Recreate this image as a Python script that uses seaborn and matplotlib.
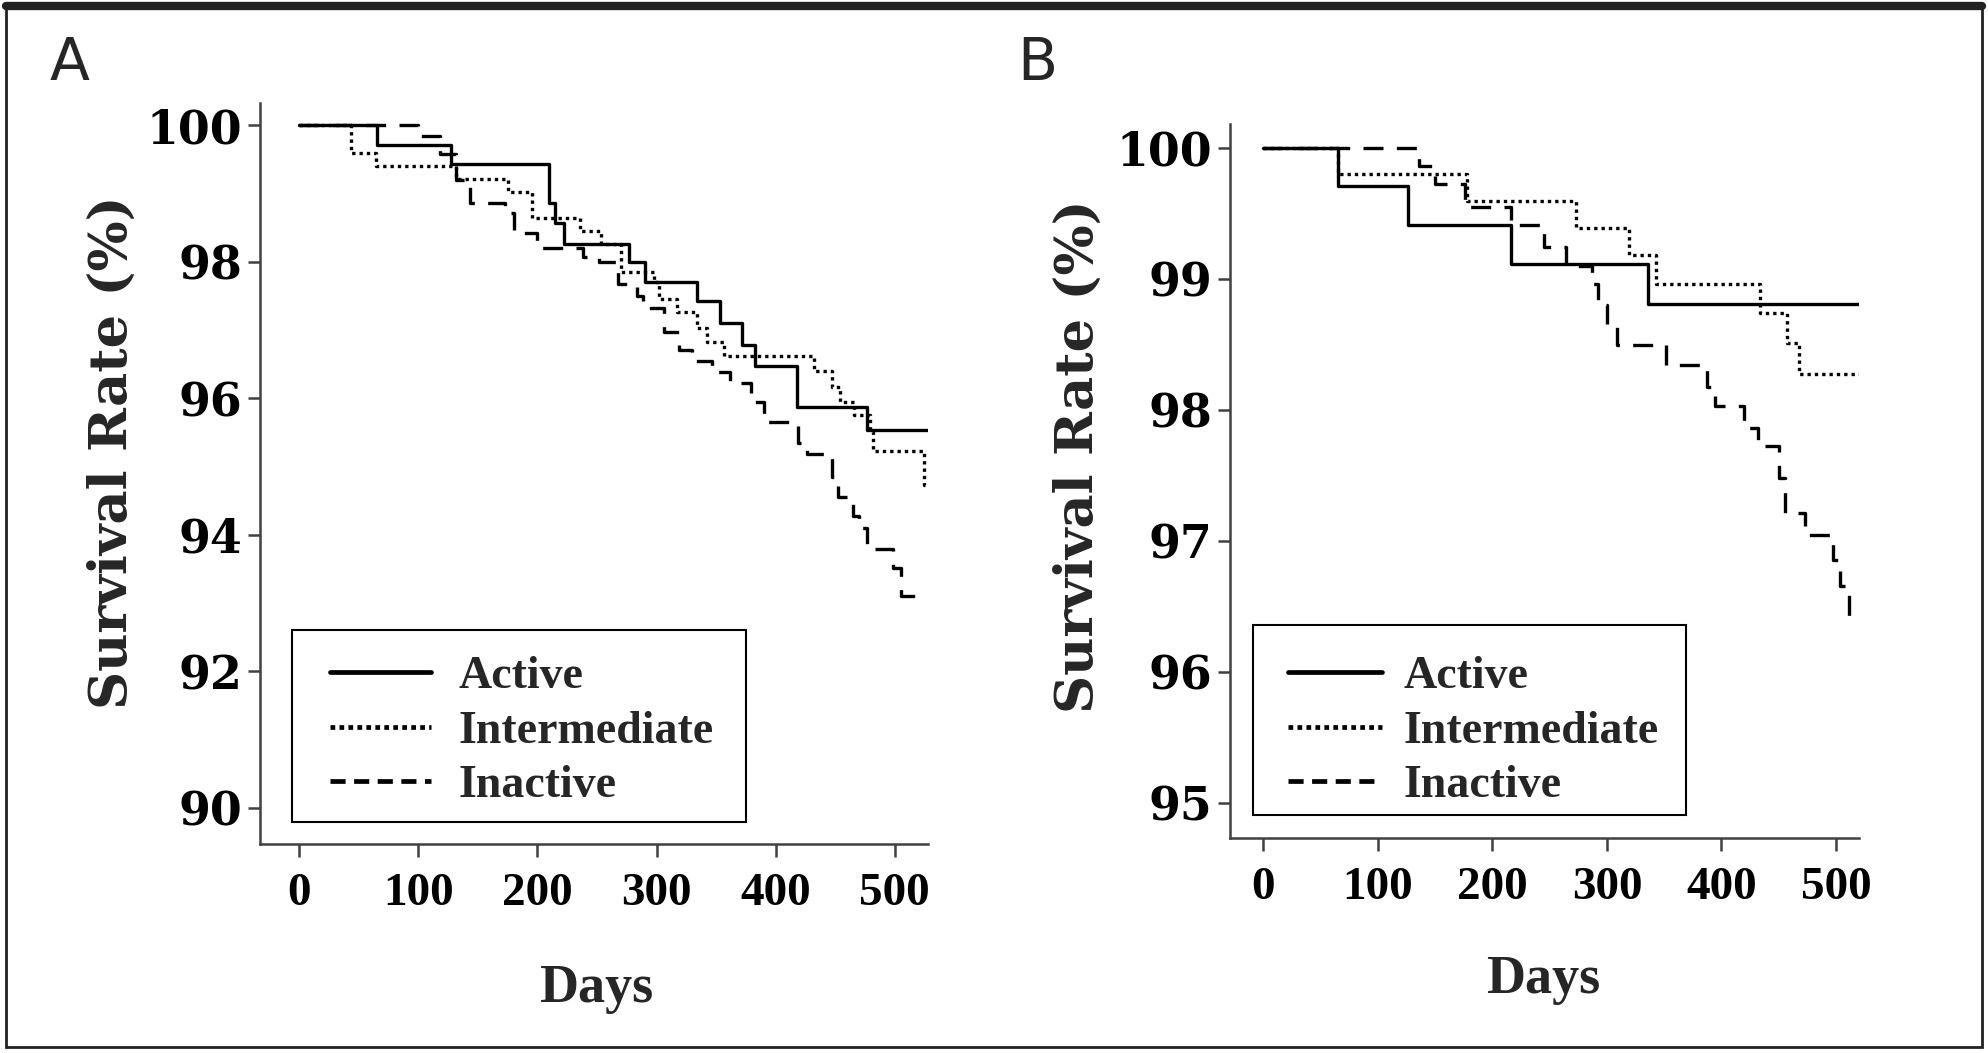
import matplotlib
matplotlib.use("Agg")
import matplotlib.pyplot as plt
import numpy as np
import pandas as pd
import seaborn as sns
from matplotlib.lines import Line2D
from matplotlib.patches import Rectangle

# ---------------- data ----------------
groups = ["Active", "Intermediate", "Inactive"]

# Panel A
a_active_days = [0, 65, 127, 210, 215, 222, 277, 290, 334, 353, 372, 383, 418, 477, 528]
a_active_surv = [100, 99.71, 99.44, 98.86, 98.57, 98.27, 98.0, 97.7, 97.43, 97.11, 96.79, 96.48, 95.87, 95.53, 95.53]
a_inter_days = [0, 43, 64, 132, 175, 195, 236, 253, 270, 298, 302, 317, 334, 342, 357, 432, 447, 454, 466, 479, 482, 525, 528]
a_inter_surv = [100, 99.6, 99.41, 99.21, 99.03, 98.65, 98.45, 98.26, 97.85, 97.7, 97.46, 97.26, 97.03, 96.83, 96.62, 96.4, 96.17, 95.95, 95.75, 95.51, 95.23, 94.73, 94.73]
a_inact_days = [0, 100, 118, 132, 143, 173, 180, 200, 238, 252, 268, 284, 289, 306, 319, 330, 347, 362, 379, 390, 419, 426, 447, 452, 465, 470, 477, 499, 505, 528]
a_inact_surv = [100, 99.85, 99.58, 99.2, 98.86, 98.72, 98.43, 98.2, 98.07, 98.0, 97.68, 97.5, 97.32, 96.98, 96.71, 96.55, 96.38, 96.22, 95.95, 95.66, 95.34, 95.19, 94.85, 94.56, 94.27, 94.1, 93.8, 93.51, 93.11, 93.11]

# Panel B
b_active_days = [0, 65.5, 126, 216, 335.5, 520]
b_active_surv = [100, 99.705, 99.41, 99.11, 98.81, 98.81]
b_inter_days = [0, 65.5, 178, 273, 319, 343, 434, 457, 468, 520]
b_inter_surv = [100, 99.8, 99.59, 99.39, 99.18, 98.96, 98.74, 98.51, 98.27, 98.27]
b_inact_days = [0, 136, 150, 176, 216, 245, 264, 287, 292, 300, 309, 352, 387, 394, 420, 432, 450, 455, 473, 497, 503, 511, 520]
b_inact_surv = [100, 99.86, 99.72, 99.55, 99.41, 99.24, 99.1, 98.96, 98.8, 98.64, 98.49, 98.34, 98.17, 98.03, 97.86, 97.72, 97.48, 97.21, 97.04, 96.85, 96.65, 96.42, 96.42]

x_ticks = [0, 100, 200, 300, 400, 500]
a_y_ticks = [90, 92, 94, 96, 98, 100]
b_y_ticks = [95, 96, 97, 98, 99, 100]
panel_letters = ["A", "B"]
y_label = "Survival Rate (%)"
x_label = "Days"


def long_df(series):
    frames = []
    for g, (d, s) in zip(groups, series):
        frames.append(pd.DataFrame({"day": d, "survival": s, "group": g}))
    return pd.concat(frames, ignore_index=True)


df_a = long_df([(a_active_days, a_active_surv), (a_inter_days, a_inter_surv), (a_inact_days, a_inact_surv)])
df_b = long_df([(b_active_days, b_active_surv), (b_inter_days, b_inter_surv), (b_inact_days, b_inact_surv)])

# ---------------- style ----------------
sns.set_theme(style="white")
plt.rcParams["font.family"] = ["DejaVu Serif"]

dash_map = {"Active": "", "Intermediate": (1, 1.2), "Inactive": (6, 4)}
legend_ls = {"Active": "-", "Intermediate": (0, (1, 0.9)), "Inactive": (0, (3.2, 1.8))}

fig = plt.figure(figsize=(19.88, 10.53), dpi=100)
fig.patch.set_facecolor("white")

axA = fig.add_axes([0.1308, 0.1985, 0.336, 0.7037])
axB = fig.add_axes([0.6187, 0.2042, 0.3164, 0.678])

spine_col = "#404040"
serif_b = dict(fontweight="bold", family=["Liberation Serif", "DejaVu Serif"])

for ax, df, yt, ylim, xlim in [
    (axA, df_a, a_y_ticks, (89.47, 100.33), (-33, 528)),
    (axB, df_b, b_y_ticks, (94.73, 100.18), (-29, 520)),
]:
    sns.lineplot(data=df, x="day", y="survival", style="group", style_order=groups,
                 dashes=dash_map, color="black", linewidth=2.4, drawstyle="steps-post",
                 estimator=None, sort=False, legend=False, ax=ax)
    ax.set_xlim(*xlim)
    ax.set_ylim(*ylim)
    ax.set_xticks(x_ticks, labels=[str(t) for t in x_ticks], fontsize=34, **serif_b)
    ax.set_yticks(yt, labels=[str(t) for t in yt], fontsize=33, fontweight="bold", family="DejaVu Serif")
    for s in ["top", "right"]:
        ax.spines[s].set_visible(False)
    for s in ["left", "bottom"]:
        ax.spines[s].set_color(spine_col)
        ax.spines[s].set_linewidth(1.8)
    ax.tick_params(axis="both", which="major", direction="out", left=True, bottom=True,
                   length=9, width=1.8, color=spine_col, labelcolor="black")
    ax.tick_params(axis="x", pad=12)
    ax.tick_params(axis="y", pad=4)
    ax.set_xlabel(x_label, fontsize=39, **serif_b)
    ax.set_ylabel(y_label, fontsize=38, fontweight="bold", family="DejaVu Serif")
    ax.xaxis.label.set_va("center")
    ax.yaxis.label.set_va("center")
    ax.set_facecolor("white")

axA.xaxis.set_label_coords(0.503, -0.196)
axA.yaxis.set_label_coords(-0.2216, 0.528)
axB.xaxis.set_label_coords(0.498, -0.199)
axB.yaxis.set_label_coords(-0.2417, 0.535)

# legends
handles = [Line2D([0], [0], color="black", lw=3.4, linestyle=legend_ls[g]) for g in groups]
leg_font = dict(size=33, weight="bold", family=["Liberation Serif", "DejaVu Serif"])
for ax, anchor, hl, htp in [(axA, (0.166, 0.377), 2.2, 0.61), (axB, (0.6479, 0.377), 2.05, 0.48)]:
    leg = ax.legend(handles, groups, loc="upper left", bbox_to_anchor=anchor,
                    bbox_transform=fig.transFigure, frameon=False, borderpad=0,
                    borderaxespad=0, handlelength=hl, handletextpad=htp,
                    labelspacing=0.27, prop=leg_font)

fig.patches.append(Rectangle((0.1469, 0.2194), 0.2284, 0.1823, transform=fig.transFigure,
                             fill=False, edgecolor="black", linewidth=1.5, zorder=5))
fig.patches.append(Rectangle((0.6303, 0.2260), 0.2178, 0.1804, transform=fig.transFigure,
                             fill=False, edgecolor="black", linewidth=1.5, zorder=5))

# panel letters
for letter, (x, y) in zip(panel_letters, [(0.0352, 0.940), (0.5216, 0.940)]):
    fig.text(x, y, letter, ha="center", va="center", fontsize=42,
             family=["Liberation Sans Narrow", "DejaVu Sans"])

# figure border
fig.patches.append(Rectangle((0.003, 0.0057), 0.994, 0.9867, transform=fig.transFigure,
                             fill=False, edgecolor="#222222", linewidth=2))
fig.lines.append(Line2D([0.003, 0.997], [0.9943, 0.9943], transform=fig.transFigure,
                        color="#222222", linewidth=6))

fig.savefig("out.png", dpi=100, facecolor="white")
